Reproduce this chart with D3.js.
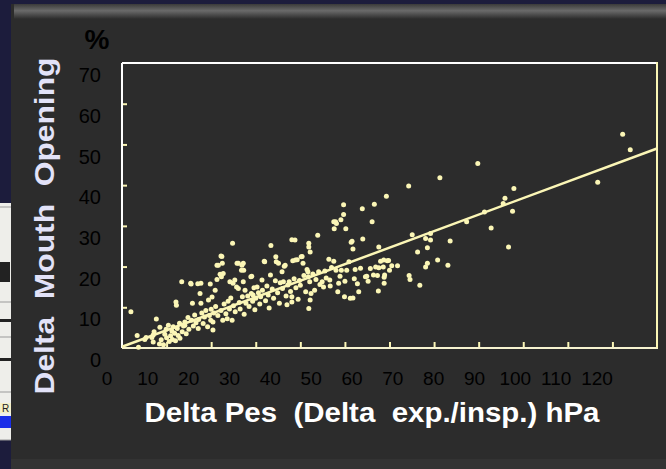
<!DOCTYPE html>
<html>
<head>
<meta charset="utf-8">
<script src="https://cdn.jsdelivr.net/npm/d3@7"></script>
<style>
  html, body { margin: 0; padding: 0; background: #1c1c3c; }
  svg { display: block; }
</style>
</head>
<body>
<div id="chart"></div>
<script>
// Delta Pes (hPa) vs Delta Mouth Opening (%)
var points = [
  [2.0,8.9],[3.4,3.1],[3.7,0.2],[5.1,2.1],[5.4,2.6],[6.7,2.6],[7.0,3.2],[7.0,1.5],[7.2,4.0],[7.7,7.1],
  [8.5,5.1],[8.4,1.0],[8.8,2.0],[9.3,0.8],[9.6,3.4],[9.9,4.6],[10.0,2.5],
  [10.4,5.6],[10.6,1.6],[10.9,3.0],[11.2,4.2],[11.3,2.1],[11.5,5.2],[11.8,3.6],[12.0,1.8],[12.1,11.3],
  [12.2,10.5],[12.4,4.8],[12.6,3.1],[12.9,6.1],[13.0,2.4],[13.4,16.3],[13.5,4.0],[13.8,5.4],[14.1,6.4],
  [14.1,5.6],[14.4,3.5],[14.8,7.5],[15.0,4.6],
  [15.4,15.9],[15.5,15.7],[15.8,11.0],[15.6,6.8],[16.0,5.4],[16.3,8.1],[16.6,6.2],[17.0,15.8],[17.1,4.8],
  [17.2,7.0],[17.5,13.4],[17.7,15.9],[17.7,11.0],[17.9,8.6],[18.2,6.0],[18.5,7.6],[18.8,9.2],[19.2,5.2],
  [19.4,11.8],[19.6,8.0],[19.8,15.7],[19.9,6.8],[20.0,9.5],
  [20.2,12.5],[20.4,6.4],[20.4,4.4],[20.6,8.6],[20.9,14.2],[21.0,10.2],[21.3,16.8],[21.3,20.3],[21.6,20.3],
  [21.5,8.0],[22.0,18.1],[22.2,22.6],[22.4,22.5],[22.5,20.8],[22.3,17.5],[22.2,9.2],[22.6,6.8],[22.7,18.3],
  [22.9,10.8],[23.3,8.4],[23.6,7.2],[23.8,11.5],[24.1,9.6],[24.2,16.3],[24.4,12.3],[24.7,6.8],[24.8,25.7],
  [24.9,15.9],[25.0,10.4],
  [25.3,16.7],[25.4,8.9],[25.7,15.0],[25.8,20.8],[26.1,14.6],[26.1,20.8],[26.3,11.2],[26.5,9.6],[26.8,19.1],
  [26.9,20.3],[27.0,12.6],[27.2,16.3],[27.2,20.8],[27.3,19.1],[27.4,8.3],[27.6,14.2],[27.8,11.0],[28.2,12.8],
  [28.5,10.2],[28.9,17.5],[29.0,13.4],[29.1,17.6],[29.3,11.5],[29.4,13.0],[29.6,14.8],[29.8,9.4],[30.0,12.2],
  [30.3,15.0],[30.6,13.6],[30.9,10.8],[31.1,12.6],[31.4,16.7],[31.5,14.2],[31.9,21.3],[32.0,21.2],[32.2,11.6],
  [32.5,15.2],[32.8,13.0],[33.0,9.8],[33.3,17.9],[33.4,25.2],[33.7,14.5],[34.0,12.2],[34.4,16.5],[34.5,22.4],
  [34.6,21.2],[34.9,13.6],[35.1,20.8],[35.3,11.0],
  [35.5,16.0],[35.9,18.7],[36.0,14.6],[36.2,16.3],[36.4,20.1],[36.6,20.3],[36.8,12.8],[37.0,10.6],[37.2,15.5],
  [37.5,16.3],[37.8,13.9],[38.1,26.6],[38.1,12.6],[38.1,11.3],[38.3,21.4],[38.6,17.0],[38.8,26.5],[38.9,21.6],
  [39.0,14.8],[39.3,21.7],[39.5,12.0],[39.8,16.6],[40.0,15.4],
  [40.2,22.4],[40.4,22.5],[40.6,20.8],[40.8,17.8],[41.2,13.8],[41.5,19.3],[41.7,18.7],[41.8,17.5],[41.9,25.7],
  [41.9,24.8],[41.9,9.7],[42.1,16.3],[42.2,23.6],[42.2,11.8],[42.4,13.4],[42.8,18.2],[43.2,14.2],[43.5,16.8],
  [43.9,27.7],[44.1,18.7],[44.4,15.6],[44.9,16.3],
  [45.2,15.0],[45.5,18.9],[45.8,17.2],[46.4,21.8],[46.6,16.7],[46.7,15.2],[47.0,19.8],[47.5,21.3],[47.5,31.0],
  [47.6,29.3],[47.9,31.0],[48.0,19.1],[48.1,30.6],[48.4,13.8],[48.6,15.9],[48.9,17.6],[49.1,31.5],[49.2,19.1],
  [49.7,35.2],[49.7,32.8],[49.9,12.6],[50.0,16.4],
  [50.2,29.3],[50.4,19.1],[50.9,21.2],[51.2,12.2],[51.4,26.0],[51.6,26.2],[51.8,24.3],[51.8,12.3],[52.1,17.0],
  [52.3,19.3],[52.8,15.8],[53.1,13.8],[53.5,19.6],[53.9,34.2],[54.0,26.8],[54.6,17.5],[54.9,17.6],[55.2,16.4],
  [55.7,19.5],
  [56.1,31.0],[56.6,35.3],[56.4,17.9],[56.9,19.9],[57.3,17.8],[57.5,14.0],[57.6,24.8],[57.6,19.7],[58.0,21.3],
  [58.6,19.9],[58.7,21.6],[58.8,17.4],[58.8,15.9],[58.9,17.9],[59.3,37.3],[59.5,21.4],[59.8,21.5],[60.0,19.1],
  [60.5,20.2],[61.8,20.2],[64.3,39.8],[64.4,17.8],[64.6,16.8],[65.1,27.8],[66.3,23.6],[66.8,15.4],[68.1,26.9],
  [68.1,19.9],[68.5,24.6],[68.5,20.8],[69.2,28.1],[69.2,26.5],[70.8,21.6],[71.3,41.8],[73.1,20.3],[73.6,26.3],
  [77.3,31.0],[79.8,45.3],[81.3,33.4],[82.8,29.5],[85.5,35.5],[85.9,36.8],[86.7,24.8],[87.6,33.6],[87.9,39.2],
  [106.7,40.7],[112.3,52.5],[114.0,48.7]
];
var fitLine = [[0, 0.3], [120, 49]];
var xTicks = [0,10,20,30,40,50,60,70,80,90,100,110,120];
var yTicks = [0,10,20,30,40,50,60,70];
var xTitle = "Delta Pes  (Delta  exp./insp.) hPa";
var yTitle = "Delta  Mouth  Opening";
var yUnit = "%";

var W = 666, H = 469;
var plot = {left: 122, right: 657, top: 63, bottom: 348};
var dotColor = "#fbf6b6";

var svg = d3.select("#chart").append("svg")
  .attr("width", W).attr("height", H);

// slide background
svg.append("rect").attr("width", W).attr("height", H).attr("fill", "#1c1c3c");
var grad = svg.append("defs").append("linearGradient")
  .attr("id", "bevel").attr("x1", 0).attr("y1", 0).attr("x2", 0).attr("y2", 1);
grad.append("stop").attr("offset", "0%").attr("stop-color", "#3a3a3a");
grad.append("stop").attr("offset", "45%").attr("stop-color", "#6a6a6a");
grad.append("stop").attr("offset", "100%").attr("stop-color", "#2c2c2c");
svg.append("rect").attr("x", 11).attr("y", 4).attr("width", W - 11).attr("height", H - 4).attr("fill", "#2c2c2c");
svg.append("rect").attr("x", 14).attr("y", 4).attr("width", W - 14).attr("height", 15).attr("fill", "url(#bevel)");
svg.append("rect").attr("x", 11).attr("y", 459).attr("width", W - 11).attr("height", 10).attr("fill", "#333333");

// small screenshot peeking in at left edge
var inset = svg.append("g");
inset.append("rect").attr("x", 0).attr("y", 203).attr("width", 11).attr("height", 237).attr("fill", "#eeeeea");
[207, 302, 337, 392, 440].forEach(function (y) {
  inset.append("line").attr("x1", 0).attr("x2", 11).attr("y1", y).attr("y2", y)
    .attr("stroke", "#9a9a9a").attr("stroke-width", 1);
});
inset.append("rect").attr("x", 0).attr("y", 262).attr("width", 10).attr("height", 20).attr("fill", "#222");
inset.append("rect").attr("x", 0).attr("y", 319).attr("width", 11).attr("height", 3).attr("fill", "#222");
inset.append("rect").attr("x", 0).attr("y", 358).attr("width", 11).attr("height", 3).attr("fill", "#222");
inset.append("rect").attr("x", 0).attr("y", 403).attr("width", 11).attr("height", 10).attr("fill", "#f4efc8");
inset.append("text").attr("x", 2).attr("y", 412).attr("font-family", "Liberation Sans, Arial, sans-serif")
  .attr("font-size", 10).attr("fill", "#222").text("R");
inset.append("rect").attr("x", 0).attr("y", 416).attr("width", 11).attr("height", 12).attr("fill", "#1a2ee8");

// scales
var x = d3.scaleLinear().domain([0, 120]).range([plot.left, plot.right]);
var y = d3.scaleLinear().domain([0, 70]).range([plot.bottom, plot.top]);
// tick labels of the original sit on their own grid
var xl = d3.scaleLinear().domain([0, 120]).range([107, 597]);
var yl = d3.scaleLinear().domain([0, 70]).range([360, 75]);

// ticks inside the frame
var tickColor = "#fbf6b6";
svg.append("g")
  .attr("transform", "translate(0," + plot.bottom + ")")
  .call(d3.axisTop(x).tickValues(xTicks.slice(1, -1)).tickSize(6).tickFormat(""))
  .call(function (g) { g.select(".domain").remove(); })
  .selectAll("line").attr("stroke", tickColor).attr("stroke-width", 2);
svg.append("g")
  .attr("transform", "translate(" + plot.left + ",0)")
  .call(d3.axisRight(y).tickValues(yTicks.slice(1, -1)).tickSize(5).tickFormat(""))
  .call(function (g) { g.select(".domain").remove(); })
  .selectAll("line").attr("stroke", tickColor).attr("stroke-width", 2);

// frame
svg.append("line").attr("x1", plot.left).attr("x2", plot.right).attr("y1", plot.top).attr("y2", plot.top)
  .attr("stroke", "#ffffff").attr("stroke-width", 2);
svg.append("line").attr("x1", plot.left).attr("x2", plot.left).attr("y1", plot.top).attr("y2", plot.bottom)
  .attr("stroke", "#ffffff").attr("stroke-width", 2);
svg.append("line").attr("x1", plot.left).attr("x2", plot.right + 1).attr("y1", plot.bottom).attr("y2", plot.bottom)
  .attr("stroke", "#f6f3d0").attr("stroke-width", 2);
svg.append("line").attr("x1", plot.right).attr("x2", plot.right).attr("y1", plot.top - 1).attr("y2", plot.bottom)
  .attr("stroke", "#fbf6b6").attr("stroke-width", 2);

// tick labels
var labelFont = "Liberation Sans, Arial, sans-serif";
svg.append("g").selectAll("text").data(xTicks).enter().append("text")
  .attr("x", function (d) { return xl(d); })
  .attr("y", 385)
  .attr("text-anchor", "middle")
  .attr("font-family", labelFont).attr("font-size", 19)
  .attr("fill", "#000")
  .text(function (d) { return d; });
svg.append("g").selectAll("text").data(yTicks).enter().append("text")
  .attr("x", 101)
  .attr("y", function (d) { return yl(d); })
  .attr("dy", "0.36em")
  .attr("text-anchor", "end")
  .attr("font-family", labelFont).attr("font-size", 20)
  .attr("fill", "#000")
  .text(function (d) { return d; });

// regression line
svg.append("path")
  .datum(fitLine)
  .attr("d", d3.line().x(function (d) { return x(d[0]); }).y(function (d) { return y(d[1]); }))
  .attr("stroke", dotColor).attr("stroke-width", 2.5).attr("fill", "none");

// points
svg.append("g").selectAll("circle").data(points).enter().append("circle")
  .attr("cx", function (d) { return x(d[0]); })
  .attr("cy", function (d) { return y(d[1]); })
  .attr("r", 2.5)
  .attr("fill", dotColor);

// titles
svg.append("text")
  .attr("x", 372).attr("y", 422)
  .attr("text-anchor", "middle")
  .attr("font-family", labelFont).attr("font-size", 28).attr("font-weight", "bold")
  .attr("fill", "#ffffff")
  .style("white-space", "pre")
  .attr("textLength", 455).attr("lengthAdjust", "spacingAndGlyphs")
  .text(xTitle);
svg.append("text")
  .attr("transform", "translate(54,226) rotate(-90)")
  .attr("text-anchor", "middle")
  .attr("font-family", labelFont).attr("font-size", 28).attr("font-weight", "bold")
  .attr("fill", "#e2e2f8")
  .style("white-space", "pre")
  .attr("textLength", 337).attr("lengthAdjust", "spacingAndGlyphs")
  .text(yTitle);
svg.append("text")
  .attr("x", 97).attr("y", 49)
  .attr("text-anchor", "middle")
  .attr("font-family", labelFont).attr("font-size", 28).attr("font-weight", "bold")
  .attr("fill", "#000")
  .text(yUnit);
</script>
</body>
</html>
